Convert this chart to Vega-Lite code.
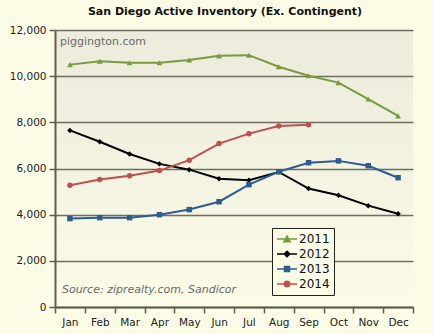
{
  "$schema": "https://vega.github.io/schema/vega-lite/v6.json",
  "autosize": "none",
  "width": 358,
  "height": 277,
  "padding": {"left": 55, "top": 30, "right": 20, "bottom": 27},
  "background": "#fcfce6",
  "title": {"text": "San Diego Active Inventory (Ex. Contingent)", "font": "DejaVu Sans", "fontSize": 11, "fontWeight": "bold", "color": "#111111", "anchor": "middle", "dx": -9, "offset": 8},
  "config": {
    "font": "DejaVu Sans",
    "view": {"stroke": null, "fill": {"gradient": "linear", "x1": 0, "y1": 0, "x2": 0, "y2": 1, "stops": [{"offset": 0, "color": "#ecebdc"}, {"offset": 1, "color": "#fbfbe7"}]}},
    "axis": {"labelFont": "DejaVu Sans", "labelFontSize": 10.5, "labelColor": "#222222", "domainColor": "#5e5e50", "domainWidth": 2, "tickColor": "#5e5e50", "tickWidth": 1.5, "tickSize": 6, "title": null}
  },
  "data": {"values": [
    {"month": "Jan", "year": "2011", "value": 10500},
    {"month": "Feb", "year": "2011", "value": 10650},
    {"month": "Mar", "year": "2011", "value": 10580},
    {"month": "Apr", "year": "2011", "value": 10580},
    {"month": "May", "year": "2011", "value": 10700},
    {"month": "Jun", "year": "2011", "value": 10880},
    {"month": "Jul", "year": "2011", "value": 10910},
    {"month": "Aug", "year": "2011", "value": 10410},
    {"month": "Sep", "year": "2011", "value": 10020},
    {"month": "Oct", "year": "2011", "value": 9720},
    {"month": "Nov", "year": "2011", "value": 9010},
    {"month": "Dec", "year": "2011", "value": 8280},
    {"month": "Jan", "year": "2012", "value": 7650},
    {"month": "Feb", "year": "2012", "value": 7160},
    {"month": "Mar", "year": "2012", "value": 6630},
    {"month": "Apr", "year": "2012", "value": 6200},
    {"month": "May", "year": "2012", "value": 5950},
    {"month": "Jun", "year": "2012", "value": 5560},
    {"month": "Jul", "year": "2012", "value": 5490},
    {"month": "Aug", "year": "2012", "value": 5850},
    {"month": "Sep", "year": "2012", "value": 5130},
    {"month": "Oct", "year": "2012", "value": 4840},
    {"month": "Nov", "year": "2012", "value": 4390},
    {"month": "Dec", "year": "2012", "value": 4040},
    {"month": "Jan", "year": "2013", "value": 3830},
    {"month": "Feb", "year": "2013", "value": 3870},
    {"month": "Mar", "year": "2013", "value": 3870},
    {"month": "Apr", "year": "2013", "value": 4000},
    {"month": "May", "year": "2013", "value": 4220},
    {"month": "Jun", "year": "2013", "value": 4560},
    {"month": "Jul", "year": "2013", "value": 5300},
    {"month": "Aug", "year": "2013", "value": 5860},
    {"month": "Sep", "year": "2013", "value": 6250},
    {"month": "Oct", "year": "2013", "value": 6330},
    {"month": "Nov", "year": "2013", "value": 6120},
    {"month": "Dec", "year": "2013", "value": 5600},
    {"month": "Jan", "year": "2014", "value": 5270},
    {"month": "Feb", "year": "2014", "value": 5520},
    {"month": "Mar", "year": "2014", "value": 5690},
    {"month": "Apr", "year": "2014", "value": 5910},
    {"month": "May", "year": "2014", "value": 6360},
    {"month": "Jun", "year": "2014", "value": 7080},
    {"month": "Jul", "year": "2014", "value": 7510},
    {"month": "Aug", "year": "2014", "value": 7840},
    {"month": "Sep", "year": "2014", "value": 7900}
  ]},
  "encoding": {
    "x": {"field": "month", "type": "nominal", "sort": ["Jan","Feb","Mar","Apr","May","Jun","Jul","Aug","Sep","Oct","Nov","Dec"], "scale": {"paddingInner": 0, "paddingOuter": 0}, "axis": {"labelAngle": 0, "tickBand": "extent", "labelPadding": 4}},
    "y": {"field": "value", "type": "quantitative", "scale": {"domain": [0, 12000]}, "axis": {"values": [0,2000,4000,6000,8000,10000,12000], "format": ",d", "grid": true, "gridColor": "#6e6e60", "gridWidth": 1.5, "labelPadding": 3}}
  },
  "layer": [
    {
      "mark": {"type": "line", "strokeWidth": 2},
      "encoding": {
        "color": {"field": "year", "type": "nominal",
          "scale": {"domain": ["2011","2012","2013","2014"], "range": ["#7a9a3c","#000000","#2d5c92","#c0504d"]},
          "legend": {"title": null, "orient": "none", "legendX": 217, "legendY": 198, "direction": "vertical",
            "labelFont": "DejaVu Sans", "labelFontSize": 12, "labelColor": "#111111", "labelOffset": 1,
            "symbolSize": 400, "symbolStrokeWidth": 1.5, "clipHeight": 14, "rowPadding": 1, "padding": 4,
            "strokeColor": "#222222", "fillColor": "#fbfbe6",
            "encode": {"symbols": {"update": {
              "shape": {"signal": "datum.value == '2011' ? 'M-1,0H1M-0.32,0.28L0,-0.3L0.32,0.28Z' : datum.value == '2012' ? 'M-1,0H1M-0.28,0L0,-0.28L0.28,0L0,0.28Z' : datum.value == '2013' ? 'M-1,0H1M-0.25,-0.25H0.25V0.25H-0.25Z' : 'M-1,0H1M-0.27,0A0.27,0.27,0,1,0,0.27,0A0.27,0.27,0,1,0,-0.27,0Z'"},
              "fill": {"signal": "scale('color', datum.value)"},
              "stroke": {"signal": "scale('color', datum.value)"},
              "opacity": {"value": 1}
            }}}
          }}
      }
    },
    {
      "transform": [{"filter": "datum.year == '2011'"}],
      "mark": {"type": "point", "filled": true, "opacity": 1, "size": 34, "shape": "triangle-up", "color": "#7a9a3c"}
    },
    {
      "transform": [{"filter": "datum.year == '2012'"}],
      "mark": {"type": "point", "filled": true, "opacity": 1, "size": 30, "shape": "diamond", "color": "#000000"}
    },
    {
      "transform": [{"filter": "datum.year == '2013'"}],
      "mark": {"type": "point", "filled": true, "opacity": 1, "size": 30, "shape": "square", "color": "#2d5c92"}
    },
    {
      "transform": [{"filter": "datum.year == '2014'"}],
      "mark": {"type": "point", "filled": true, "opacity": 1, "size": 30, "shape": "circle", "color": "#c0504d"}
    },
    {
      "data": {"values": [{"label": "piggington.com", "month": "Jan", "value": 12000}]},
      "mark": {"type": "text", "align": "left", "baseline": "middle", "fontSize": 11, "color": "#6a6a6a", "dx": -10, "dy": 12},
      "encoding": {"text": {"field": "label"}}
    },
    {
      "data": {"values": [{"label": "Source: ziprealty.com, Sandicor", "month": "Jan", "value": 737}]},
      "mark": {"type": "text", "align": "left", "baseline": "middle", "fontSize": 11, "fontStyle": "italic", "color": "#6a6a6a", "dx": -8},
      "encoding": {"text": {"field": "label"}}
    }
  ]
}
